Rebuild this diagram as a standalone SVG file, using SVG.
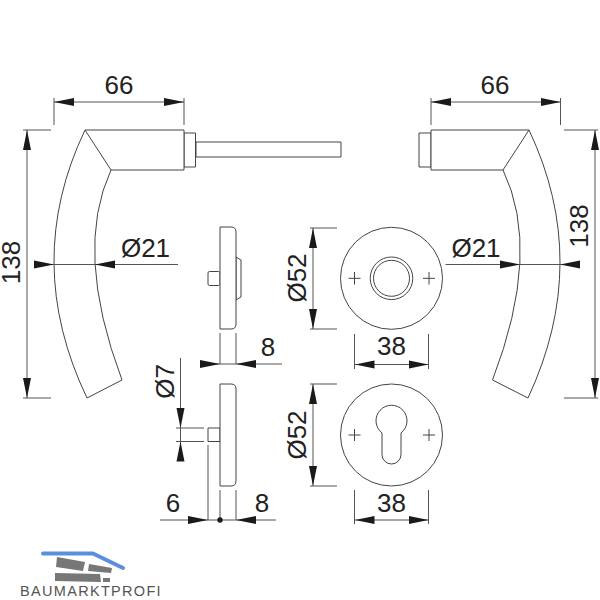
<svg xmlns="http://www.w3.org/2000/svg" width="600" height="600" viewBox="0 0 600 600">
<style>
.o{fill:#fff;stroke:#444;stroke-width:1;stroke-linejoin:round}
.n{fill:none;stroke:#444;stroke-width:1;stroke-linejoin:round}
.d{fill:none;stroke:#555;stroke-width:1}
.a{marker-end:url(#ah)}
.b{marker-start:url(#ah);marker-end:url(#ah)}
text{font-family:"Liberation Sans",Arial,sans-serif;font-size:26px;fill:#222;text-anchor:middle}
</style>
<defs>
<marker id="ah" markerUnits="userSpaceOnUse" markerWidth="20" markerHeight="10" refX="20" refY="5" orient="auto-start-reverse" viewBox="0 0 20 10"><path d="M0,1 L20,5 L0,9 Z" fill="#1a1a1a"/></marker>
</defs>
<rect width="600" height="600" fill="#fff"/>
<g id="handle-left">
<path class="o" d="M196,142 H341 V157 H196 Z"/>
<rect class="o" x="184" y="133" width="11.500" height="34"/>
<path class="o" d="M85,130 H184 V170 H111 Q73.500,251 122,380 L87,398 Q22,262 85,130 Z"/>
<path class="n" d="M85,130 L111,170"/>
</g>
<g id="handle-right">
<rect class="o" x="419" y="133" width="12" height="34"/>
<path class="o" d="M529,130 H431 V170 H503 Q542,251 492.500,380 L528,398 Q591.500,262 529,130 Z"/>
<path class="n" d="M529,130 L503,170"/>
</g>
<g id="rose-side-top">
<rect class="o" x="208" y="271.500" width="12" height="14" rx="1.500"/>
<path class="o" d="M236,257 L241,260 V297 L236,300 Z"/>
<path class="o" d="M220,227 H231 Q236,227 236,232 V324 Q236,329 231,329 H220 Z"/>
</g>
<g id="rose-side-bottom">
<rect class="o" x="208" y="428" width="12" height="13.500"/>
<path class="o" d="M220,384 H231 Q236,384 236,389 V481 Q236,486 231,486 H220 Z"/>
</g>
<g id="rose-top">
<circle class="o" cx="391.500" cy="278.300" r="51"/>
<circle class="n" cx="391.500" cy="278.300" r="21.300"/>
<circle class="n" cx="391.500" cy="278.300" r="18"/>
<path class="n" d="M348.500,278.300 H360.500 M354.500,272 V284.500 M423,278.300 H435 M429,272 V284.500"/>
</g>
<g id="rose-bottom">
<circle class="o" cx="391.500" cy="435" r="51"/>
<path class="n" d="M382,433 A15.500,15.500 0 1 1 401,433 V454.500 A9.500,9.500 0 0 1 382,454.500 Z"/>
<path class="n" d="M348.500,435 H360.500 M354.500,429 V441 M423,435 H435 M429,429 V441"/>
</g>
<g id="connectors">
<path class="d" d="M54,98 V125 M184,98 V125 M431,98 V125 M560.500,98 V125"/>
<path class="d b" d="M54,102 H184"/>
<path class="d b" d="M431,102 H560.500"/>
<path class="d" d="M23,130 H51 M23,398 H51 M564,130 H598 M564,398 H598"/>
<path class="d b" d="M27,130 V398"/>
<path class="d b" d="M595,130 V398"/>
<path class="d a" d="M34,264.500 H54"/>
<path class="d" d="M54,264.500 H95"/>
<path class="d a" d="M178,264.500 H95"/>
<path class="d a" d="M445.500,264.500 H520"/>
<path class="d" d="M520,264.500 H560"/>
<path class="d a" d="M580,264.500 H560"/>
<path class="d" d="M220,333 V364 M236,333 V364"/>
<path class="d a" d="M200,364 H220"/>
<path class="d" d="M220,364 H236"/>
<path class="d a" d="M282,364 H236"/>
<path class="d a" d="M180.500,358 V428"/>
<path class="d a" d="M180.500,461 V441.500"/>
<path class="d" d="M180.500,428 V441.500 M176,428 H204 M176,441.500 H204"/>
<path class="d" d="M208,445 V520 M220,490 V520 M236,490 V520"/>
<path class="d a" d="M160,520 H208"/>
<path class="d" d="M208,520 H236"/>
<path class="d a" d="M276,520 H236"/>
<circle cx="220" cy="520" r="2.700" fill="#1a1a1a"/>
<path class="d" d="M310,228 H337 M310,329 H337 M310,384 H337 M310,486 H337"/>
<path class="d b" d="M313,228 V329"/>
<path class="d b" d="M313,384 V486"/>
<path class="d" d="M354.500,334 V369 M428.500,334 V369 M354.500,490 V524 M428.500,490 V524"/>
<path class="d b" d="M354.500,364.500 H428.500"/>
<path class="d b" d="M354.500,520 H428.500"/>
</g>
<g id="labels">
<text x="119" y="94">66</text>
<text x="495" y="94">66</text>
<text transform="translate(20,262.500) rotate(-90)">138</text>
<text transform="translate(588,226) rotate(-90)">138</text>
<text x="145.500" y="257">Ø21</text>
<text x="476" y="257">Ø21</text>
<text x="268" y="355.500">8</text>
<text x="262" y="512">8</text>
<text x="173" y="512">6</text>
<text transform="translate(174,381.500) rotate(-90)">Ø7</text>
<text transform="translate(305.700,278) rotate(-90)">Ø52</text>
<text transform="translate(305.700,435) rotate(-90)">Ø52</text>
<text x="391.500" y="355">38</text>
<text x="391.500" y="511.500">38</text>
</g>
<g id="logo">
<path d="M43,553.500 H93 L123,568" fill="none" stroke="#5b8fdc" stroke-width="4" stroke-linecap="round" stroke-linejoin="round"/>
<path d="M57,557 L85,562 L83,571 L56,567 Z M89,564 L112,568 L111,573 L88,571 Z M55,573 L100,574 L101,582 L55,581 Z M103,578 L110,578 L110,582 L103,582 Z" fill="#777"/>
<text x="91" y="596" style="font-size:14.500px;letter-spacing:1.300px;fill:#555">BAUMARKTPROFI</text>
</g>
</svg>
